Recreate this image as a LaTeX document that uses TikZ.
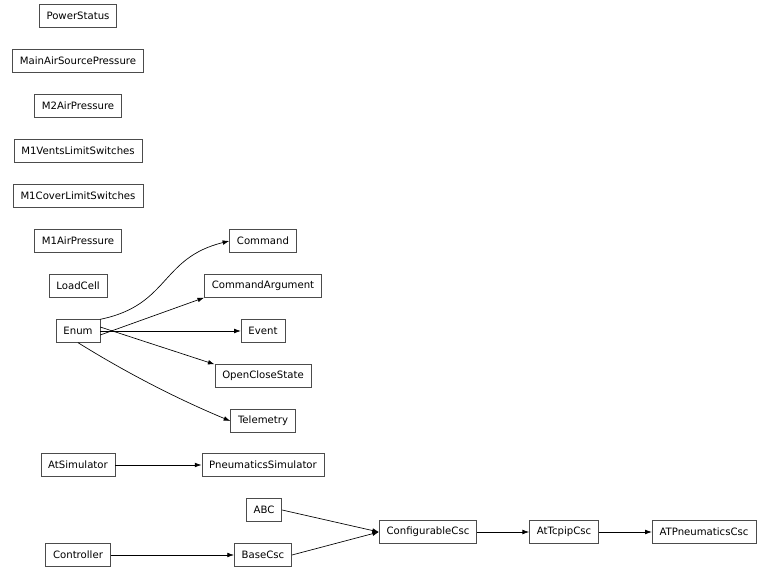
\documentclass[tikz,border=0pt]{standalone}
\usepackage{fontspec}
\setmainfont{DejaVu Sans}
\usetikzlibrary{arrows.meta}
\begin{document}
\begin{tikzpicture}[x=0.75pt,y=-0.75pt]
\tikzstyle{every node}=[draw=black!70,line width=0.5pt,minimum height=17pt,inner xsep=5.5pt,font=\fontsize{7.6}{9}\selectfont]
\tikzstyle{inh}=[-{Latex[length=5pt,width=3.5pt]},line width=0.5pt]
\useasboundingbox (0,0) rectangle (768,573);
% left column
\node (power) at (78,16) {PowerStatus};
\node (mainair) at (78,61) {MainAirSourcePressure};
\node (m2air) at (78,106) {M2AirPressure};
\node (m1vents) at (78,151) {M1VentsLimitSwitches};
\node (m1cover) at (78,196) {M1CoverLimitSwitches};
\node (m1air) at (78,241) {M1AirPressure};
\node (loadcell) at (78,286) {LoadCell};
\node (enum) at (78,331) {Enum};
\node (atsim) at (78,465) {AtSimulator};
\node (controller) at (78,555) {Controller};
% middle column
\node (command) at (263,241) {Command};
\node (cmdarg) at (263,286) {CommandArgument};
\node (event) at (263,331) {Event};
\node (openclose) at (263,376) {OpenCloseState};
\node (telemetry) at (263,421) {Telemetry};
\node (pneusim) at (263,465) {PneumaticsSimulator};
\node (abc) at (264,510) {ABC};
\node (basecsc) at (263,555) {BaseCsc};
% right part
\node (configcsc) at (428,532) {ConfigurableCsc};
\node (tcpip) at (564,532) {AtTcpipCsc};
\node (atpneu) at (704,532) {ATPneumaticsCsc};
% edges
\draw[inh] (enum.north east) .. controls (170,305) and (160,258) .. (command.west);
\draw[inh] (enum.east) ++(0,-3pt) -- (cmdarg.south west);
\draw[inh] (enum) -- (event);
\draw[inh] (enum.east) ++(0,3pt) -- (openclose.north west);
\draw[inh] (enum.south) .. controls (130,375) and (180,400) .. (telemetry.west);
\draw[inh] (atsim) -- (pneusim);
\draw[inh] (controller) -- (basecsc);
\draw[inh] (abc.east) -- (configcsc.west);
\draw[inh] (basecsc.east) -- (configcsc.west);
\draw[inh] (configcsc) -- (tcpip);
\draw[inh] (tcpip) -- (atpneu);
\end{tikzpicture}
\end{document}
